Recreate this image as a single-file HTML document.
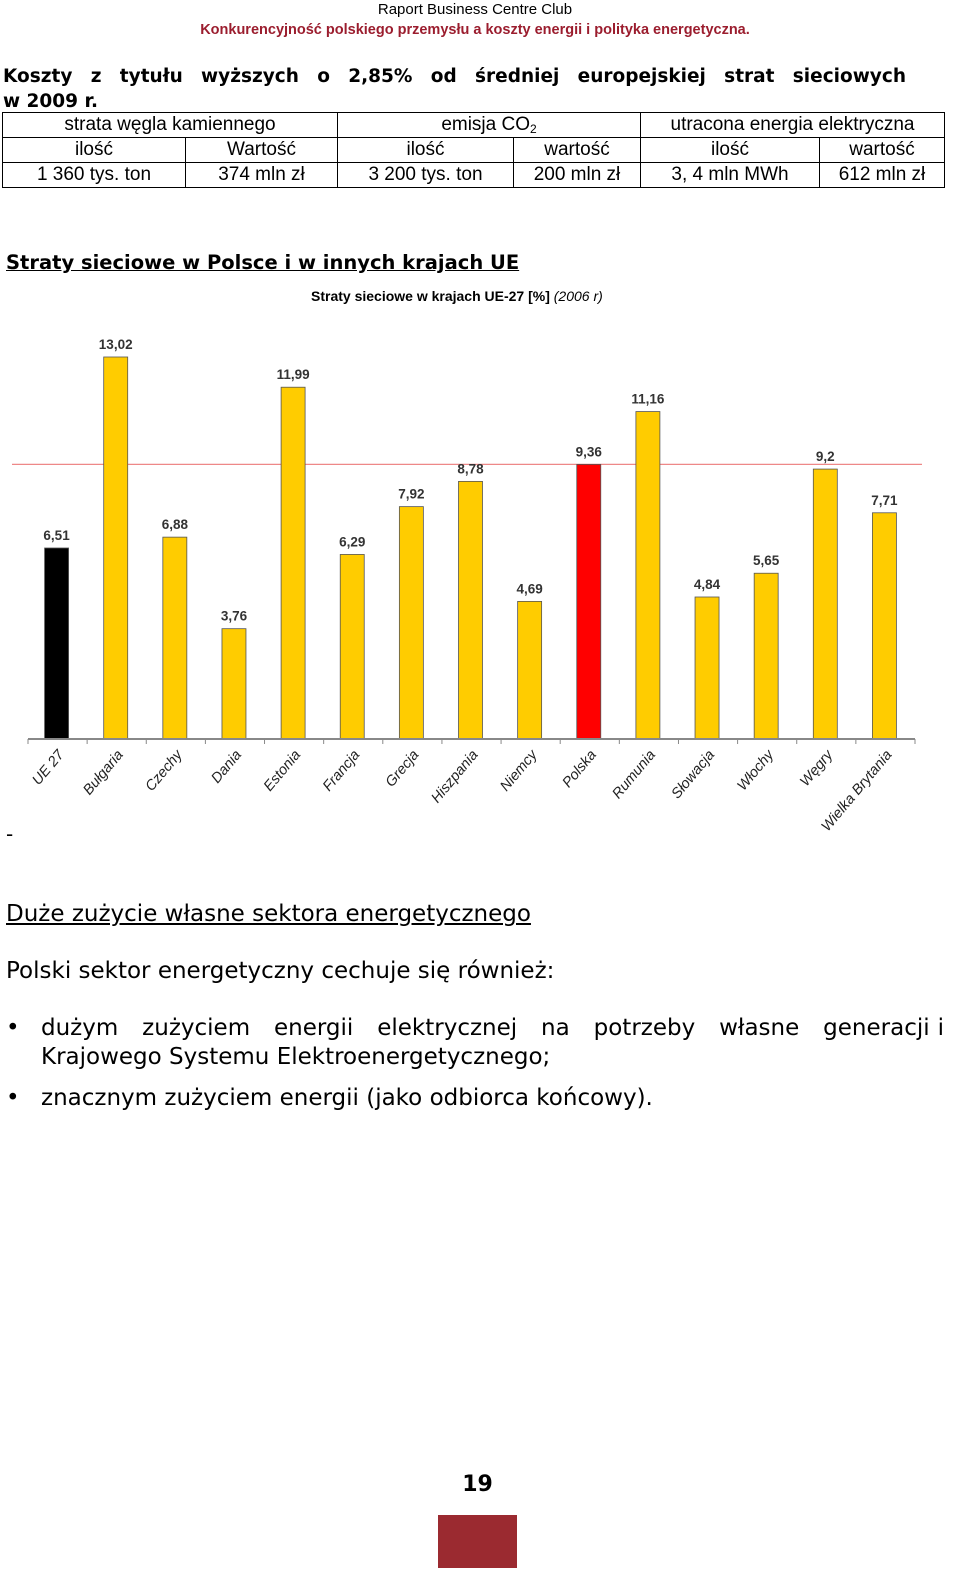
<!DOCTYPE html>
<html><head><meta charset="utf-8">
<style>
body{margin:0;width:960px;height:1592px;background:#fff;position:relative;font-family:"DejaVu Sans","Liberation Sans",sans-serif;color:#000;overflow:hidden}
.abs{position:absolute}
table{border-collapse:collapse;font-family:"Liberation Sans",sans-serif;font-size:19px}
td{border:1px solid #000;text-align:center;padding:0;height:24px;line-height:24px}
</style></head><body>
<div class="abs" style="left:0;width:950px;top:0;text-align:center;font-family:'Liberation Sans',sans-serif;font-size:15px;line-height:20px">
<div>Raport Business Centre Club</div>
<div style="color:#9b1d2e;font-weight:bold;font-size:14.5px">Konkurencyjność polskiego przemysłu a koszty energii i polityka energetyczna.</div>
</div>
<div class="abs" style="left:3px;top:64px;font-weight:bold;font-size:18.5px;line-height:25px">
<div style="width:903px;text-align:justify;text-align-last:justify">Koszty z tytułu wyższych o 2,85% od średniej europejskiej strat sieciowych</div>
<div>w 2009 r.</div></div>
<table class="abs" style="left:2px;top:112px;width:943px">
<tr><td colspan="2" style="width:334px">strata węgla kamiennego</td><td colspan="2" style="width:302px">emisja CO<span style="font-size:12px;vertical-align:-3px;line-height:0">2</span></td><td colspan="2">utracona energia elektryczna</td></tr>
<tr><td style="width:182px">ilość</td><td style="width:151px">Wartość</td><td style="width:175px">ilość</td><td style="width:126px">wartość</td><td style="width:178px">ilość</td><td>wartość</td></tr>
<tr><td>1 360 tys. ton</td><td>374 mln zł</td><td>3 200 tys. ton</td><td>200 mln zł</td><td>3, 4 mln MWh</td><td>612 mln zł</td></tr>
</table>
<div class="abs" style="left:6px;top:251px;font-weight:bold;font-size:19.5px;text-decoration:underline">Straty sieciowe w Polsce i w innych krajach UE</div>
<svg class="abs" style="left:0;top:280px" width="960" height="560">
<text x="311" y="21" font-family="Liberation Sans,sans-serif" font-size="14" font-weight="bold">Straty sieciowe w krajach UE-27 [%] <tspan font-weight="normal" font-style="italic">(2006 r)</tspan></text>
<g id="g"></g>
</svg>
<script>
const categories=["UE 27","Bułgaria","Czechy","Dania","Estonia","Francja","Grecja","Hiszpania","Niemcy","Polska","Rumunia","Słowacja","Włochy","Węgry","Wielka Brytania"];
const values=[6.51,13.02,6.88,3.76,11.99,6.29,7.92,8.78,4.69,9.36,11.16,4.84,5.65,9.2,7.71];
const valueLabels=["6,51","13,02","6,88","3,76","11,99","6,29","7,92","8,78","4,69","9,36","11,16","4,84","5,65","9,2","7,71"];
const refValue=9.36;
const NS="http://www.w3.org/2000/svg";
const g=document.getElementById('g');
const x0=28,x1=915,base=459,k=29.34;
const step=(x1-x0)/categories.length;
const y=v=>base-v*k;
const xc=i=>x0+step*(i+0.5)-1;
function mk(t,a){const e=document.createElementNS(NS,t);for(const n in a)e.setAttribute(n,a[n]);g.appendChild(e);return e;}
let l=mk('line',{x1:12,x2:922,y1:y(refValue),y2:y(refValue),stroke:'#e88',"stroke-width":1.2});


values.forEach((v,i)=>{
 const col=i==0?'#000':(categories[i]=="Polska"?'#f00':'#fc0');
 const r=mk('rect',{x:xc(i)-12,y:y(v),width:24,height:v*k,fill:col,stroke:'#555',"stroke-width":0.8});
 
 
 const t=mk('text',{x:xc(i),y:y(v)-8,"text-anchor":"middle","font-family":"Liberation Sans,sans-serif","font-size":13.5,"font-weight":"bold",fill:'#333'});
 t.textContent=valueLabels[i];
 
 
 const c=mk('text',{transform:`translate(${xc(i)+8},${base+16}) rotate(-50)`,"text-anchor":"end","font-family":"Liberation Sans,sans-serif","font-size":14.5,"font-style":"italic",fill:'#222'});
 c.textContent=categories[i];
 
 
});
const ax=mk('line',{x1:x0,x2:x1,y1:base,y2:base,stroke:'#888',"stroke-width":2});


for(let i=0;i<=categories.length;i++){const tk=mk('line',{x1:x0+step*i,x2:x0+step*i,y1:base,y2:base+5,stroke:'#888'});

}
</script>
<div class="abs" style="left:6px;top:822px;font-size:20px">-</div>
<div class="abs" style="left:6px;top:901px;font-size:23px;text-decoration:underline">Duże zużycie własne sektora energetycznego</div>
<div class="abs" style="left:6px;top:958px;font-size:23px">Polski sektor energetyczny cechuje się również:</div>
<div class="abs" style="left:6px;top:1014px;width:938px;font-size:23px;line-height:29px">
<span style="position:absolute;left:0">•</span>
<div style="margin-left:35px;text-align:justify">dużym&nbsp;&nbsp; zużyciem&nbsp;&nbsp; energii&nbsp;&nbsp; elektrycznej&nbsp;&nbsp; na&nbsp;&nbsp; potrzeby&nbsp;&nbsp; własne&nbsp;&nbsp; generacji i Krajowego Systemu Elektroenergetycznego;</div></div>
<div class="abs" style="left:6px;top:1084px;font-size:23px;line-height:29px">
<span style="position:absolute;left:0">•</span><span style="margin-left:35px">znacznym zużyciem energii (jako odbiorca końcowy).</span></div>
<div class="abs" style="left:438px;width:79px;top:1472px;text-align:center;font-weight:bold;font-size:22px">19</div>
<div class="abs" style="left:438px;top:1515px;width:79px;height:53px;background:#9b2a30"></div>
</body></html>
